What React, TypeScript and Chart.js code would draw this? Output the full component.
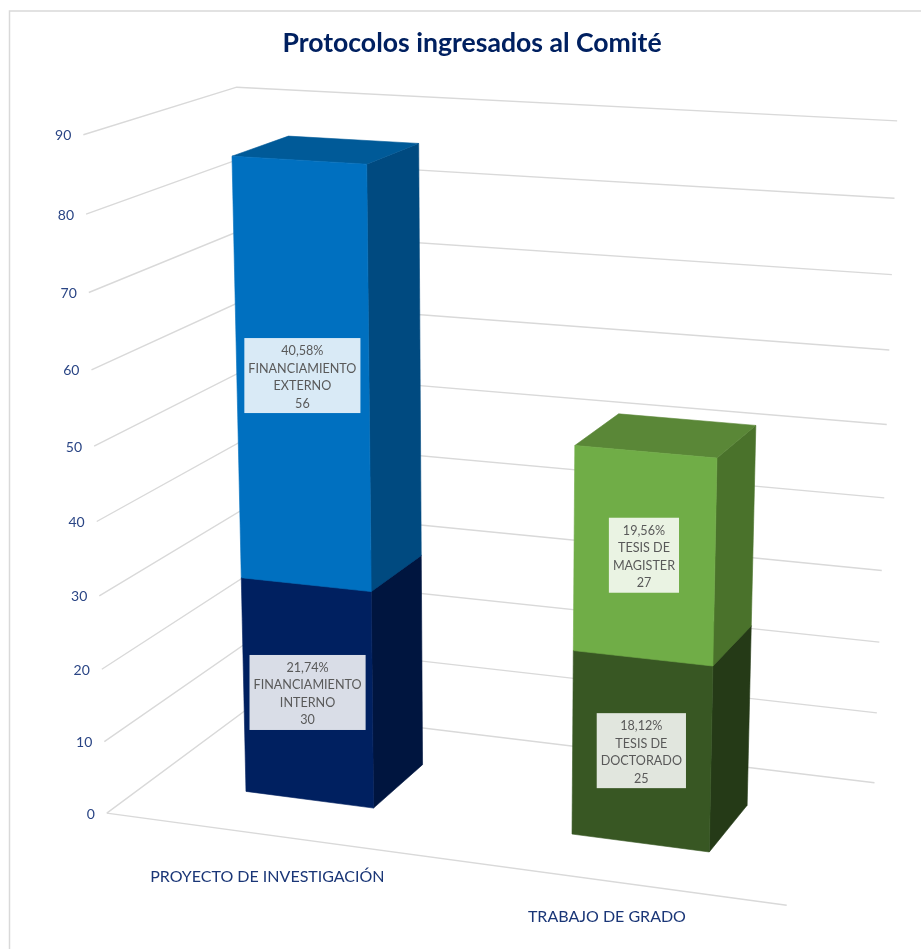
import React, { useEffect, useRef } from "react";
import { Chart, registerables } from "chart.js";

Chart.register(...registerables);

const categories = ["PROYECTO DE INVESTIGACIÓN", "TRABAJO DE GRADO"];
const serieFinanciamientoInterno = [30, null];
const serieFinanciamientoExterno = [56, null];
const serieTesisDoctorado = [null, 25];
const serieTesisMagister = [null, 27];
const seriesNames = [
  ["FINANCIAMIENTO", "INTERNO"],
  ["FINANCIAMIENTO", "EXTERNO"],
  ["TESIS DE", "DOCTORADO"],
  ["TESIS DE", "MAGISTER"],
];
const seriesPercents = ["21,74%", "40,58%", "18,12%", "19,56%"];
const frontColors = ["#002060", "#0070C0", "#385723", "#70AD47"];
const sideColors = ["#00153F", "#004A80", "#253A17", "#4A722B"];
const topColors = ["#001A4E", "#005A98", "#2E481C", "#5A8737"];

const BLUE = "#002060";
const AXIS_TEXT = "#1A3677";
const TICK = "#2A4585";
const GRID = "#D9D9D9";
const FONT = "Lato, Carlito, 'Open Sans', sans-serif";

// Camera calibration: axis-box corners (category fraction, value, depth) -> page pixel
const calibration: number[][] = [
  [0, 0, 0, 107, 813],
  [1, 0, 0, 787, 905],
  [0, 90, 0, 83, 135],
  [0, 0, 1, 250, 707],
  [1, 0, 1, 874, 783],
  [0, 90, 1, 237, 87],
  [1, 90, 1, 897, 121],
  [0, 10, 0, 104, 742],
  [0, 20, 0, 102, 669],
  [1, 10, 1, 877, 713],
  [1, 50, 1, 887, 424],
];
const DEPTH_FRONT = 0.3;
const DEPTH_BACK = 0.69;

function solveCamera(points: number[][]): number[] {
  const n = 11;
  const A: number[][] = Array.from({ length: n }, () => new Array(n + 1).fill(0));
  const add = (r: number[], b: number) => {
    for (let i = 0; i < n; i++) {
      for (let j = 0; j < n; j++) A[i][j] += r[i] * r[j];
      A[i][n] += r[i] * b;
    }
  };
  for (const [u, v0, w, x, y] of points) {
    const v = v0 / 90;
    add([u, v, w, 1, 0, 0, 0, 0, -x * u, -x * v, -x * w], x);
    add([0, 0, 0, 0, u, v, w, 1, -y * u, -y * v, -y * w], y);
  }
  for (let c = 0; c < n; c++) {
    let p = c;
    for (let r = c + 1; r < n; r++) if (Math.abs(A[r][c]) > Math.abs(A[p][c])) p = r;
    [A[c], A[p]] = [A[p], A[c]];
    for (let r = 0; r < n; r++) {
      if (r === c) continue;
      const f = A[r][c] / A[c][c];
      for (let k = c; k <= n; k++) A[r][k] -= f * A[c][k];
    }
  }
  return A.map((row, i) => row[n] / row[i]);
}

const cam = solveCamera(calibration);
function project(u: number, value: number, w: number): [number, number] {
  const v = value / 90;
  const d = cam[8] * u + cam[9] * v + cam[10] * w + 1;
  return [
    (cam[0] * u + cam[1] * v + cam[2] * w + cam[3]) / d,
    (cam[4] * u + cam[5] * v + cam[6] * w + cam[7]) / d,
  ];
}

function poly(ctx: CanvasRenderingContext2D, pts: [number, number][], fill: string) {
  ctx.beginPath();
  pts.forEach((p, i) => (i ? ctx.lineTo(p[0], p[1]) : ctx.moveTo(p[0], p[1])));
  ctx.closePath();
  ctx.fillStyle = fill;
  ctx.strokeStyle = fill;
  ctx.lineWidth = 0.6;
  ctx.fill();
  ctx.stroke();
}

function line(ctx: CanvasRenderingContext2D, pts: [number, number][]) {
  ctx.beginPath();
  pts.forEach((p, i) => (i ? ctx.lineTo(p[0], p[1]) : ctx.moveTo(p[0], p[1])));
  ctx.strokeStyle = GRID;
  ctx.lineWidth = 1.4;
  ctx.stroke();
}

const perspective3d = {
  id: "perspective3d",
  beforeDatasetsDraw(chart: any) {
    const { ctx, chartArea, scales } = chart;
    const yScale = scales.y;
    const xScale = scales.x;
    const toU = (px: number) => (px - chartArea.left) / chartArea.width;

    ctx.save();
    // frame
    ctx.strokeStyle = GRID;
    ctx.lineWidth = 1.5;
    ctx.beginPath();
    ctx.moveTo(9.5, 949);
    ctx.lineTo(9.5, 11);
    ctx.lineTo(921, 11);
    ctx.stroke();

    // walls, gridlines and value labels
    ctx.font = `14px ${FONT}`;
    ctx.textAlign = "right";
    ctx.textBaseline = "middle";
    for (const tick of yScale.ticks) {
      const a = project(0, tick.value, 0);
      const b = project(0, tick.value, 1);
      const c = project(1, tick.value, 1);
      line(ctx, [a, b, c]);
      if (tick.value === 0) line(ctx, [a, project(1, 0, 0)]);
      ctx.fillStyle = TICK;
      ctx.fillText(String(tick.value), a[0] - 12, a[1] + 1);
    }

    // category labels
    ctx.font = `16px ${FONT}`;
    ctx.textAlign = "center";
    ctx.fillStyle = AXIS_TEXT;
    categories.forEach((name, i) => {
      const u = toU(xScale.getPixelForValue(i));
      const p = project(u, 0, 0);
      ctx.fillText(name, p[0], p[1] + 44.5 - 11.4 * u);
    });

    // bars
    const labels: (() => void)[] = [];
    chart.data.datasets.forEach((ds: any, di: number) => {
      chart.getDatasetMeta(di).data.forEach((el: any, index: number) => {
        if (ds.data[index] == null) return;
        const { x, y, base, width } = el.getProps(["x", "y", "base", "width"], true);
        const u0 = toU(x - width / 2);
        const u1 = toU(x + width / 2);
        const vLow = yScale.getValueForPixel(base);
        const vHigh = yScale.getValueForPixel(y);
        const w0 = DEPTH_FRONT;
        const w1 = DEPTH_BACK;
        poly(ctx, [project(u1, vLow, w0), project(u1, vLow, w1), project(u1, vHigh, w1), project(u1, vHigh, w0)], sideColors[di]);
        poly(ctx, [project(u0, vHigh, w0), project(u1, vHigh, w0), project(u1, vHigh, w1), project(u0, vHigh, w1)], topColors[di]);
        poly(ctx, [project(u0, vLow, w0), project(u1, vLow, w0), project(u1, vHigh, w0), project(u0, vHigh, w0)], frontColors[di]);

        const centre = project(toU(x), (vLow + vHigh) / 2, w0);
        labels.push(() => {
          const rows = [seriesPercents[di], ...seriesNames[di], String(ds.data[index])];
          ctx.font = `12.6px ${FONT}`;
          const tw = Math.max(...rows.map((r) => ctx.measureText(r).width));
          const lh = 17.5;
          const bw = tw + 8;
          const bh = lh * rows.length + 5;
          ctx.fillStyle = "rgba(255,255,255,0.85)";
          ctx.fillRect(centre[0] - bw / 2, centre[1] - bh / 2 - 0.7, bw, bh);
          ctx.fillStyle = "#595959";
          ctx.textAlign = "center";
          ctx.textBaseline = "middle";
          rows.forEach((r, i) => {
            ctx.fillText(r, centre[0], centre[1] - ((rows.length - 1) * lh) / 2 + i * lh + 1);
          });
        });
      });
    });
    labels.forEach((draw) => draw());
    ctx.restore();
    return false;
  },
};

export default function App() {
  const ref = useRef<HTMLCanvasElement>(null);
  useEffect(() => {
    document.body.style.margin = "0";
    document.body.style.background = "#ffffff";
    const data = [serieFinanciamientoInterno, serieFinanciamientoExterno, serieTesisDoctorado, serieTesisMagister];
    const chart = new Chart(ref.current as HTMLCanvasElement, {
      type: "bar",
      data: {
        labels: categories,
        datasets: data.map((d, i) => ({
          label: seriesNames[i].join(" "),
          data: d as any,
          backgroundColor: frontColors[i],
          barPercentage: 0.4,
          categoryPercentage: 1,
        })),
      },
      options: {
        responsive: false,
        animation: false,
        devicePixelRatio: 1,
        layout: { padding: { left: 107, right: 84, top: 15, bottom: 136 } },
        plugins: {
          legend: { display: false },
          tooltip: { enabled: false },
          title: {
            display: true,
            text: "Protocolos ingresados al Comité",
            color: BLUE,
            font: { family: FONT, size: 26.6, weight: "bold" },
            padding: { top: 12, bottom: 77 },
          },
        },
        scales: {
          x: {
            stacked: true,
            grid: { display: false, drawTicks: false },
            border: { display: false },
            ticks: { display: false },
          },
          y: {
            stacked: true,
            min: 0,
            max: 90,
            grid: { display: false, drawTicks: false },
            border: { display: false },
            ticks: { display: false, stepSize: 10 },
          },
        },
      } as any,
      plugins: [perspective3d as any],
    });
    return () => chart.destroy();
  }, []);
  return <canvas ref={ref} width={921} height={949} style={{ display: "block", width: 921, height: 949 }} />;
}
